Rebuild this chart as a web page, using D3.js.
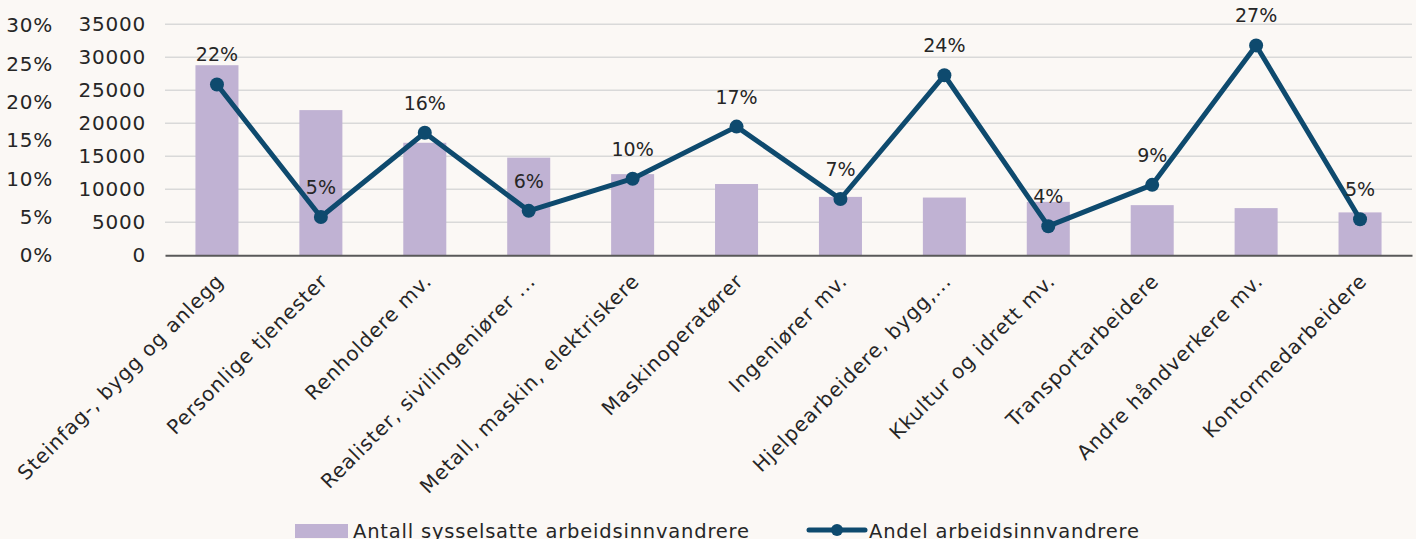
<!DOCTYPE html>
<html lang="no">
<head>
    <meta charset="UTF-8">
    <title>Arbeidsinnvandrere etter yrke</title>
    <script src="https://d3js.org/d3.v7.min.js"></script>
    <style>
        body { margin: 0; background: #fbf8f5; }
        svg { display: block; }
        svg text { font-family: "DejaVu Sans", sans-serif; }
    </style>
</head>
<body>
    <div id="chart"></div>
    <script>
        // Data
        const categories = [
            "Steinfag-, bygg og anlegg",
            "Personlige tjenester",
            "Renholdere mv.",
            "Realister, sivilingeniører ...",
            "Metall, maskin, elektriskere",
            "Maskinoperatører",
            "Ingeniører mv.",
            "Hjelpearbeidere, bygg,...",
            "Kkultur og idrett mv.",
            "Transportarbeidere",
            "Andre håndverkere mv.",
            "Kontormedarbeidere"
        ];
        const antall = [28800, 22000, 17050, 14800, 12300, 10800, 8850, 8750, 8100, 7600, 7150, 6500];
        const andel = [0.223, 0.050, 0.160, 0.058, 0.100, 0.168, 0.0735, 0.235, 0.038, 0.092, 0.274, 0.047];
        const countTicks = [0, 5000, 10000, 15000, 20000, 25000, 30000, 35000];
        const pctTicks = [0, 0.05, 0.10, 0.15, 0.20, 0.25, 0.30];
        const seriesNames = ["Antall sysselsatte arbeidsinnvandrere", "Andel arbeidsinnvandrere"];

        const W = 1416, H = 539;
        const barColor = "#c0b2d3", lineColor = "#0e4a6e", textColor = "#262626";
        const plot = {left: 165, right: 1412, top: 24.3, bottom: 255.3};

        const svg = d3.select("#chart").append("svg")
            .attr("width", W)
            .attr("height", H);

        svg.append("rect").attr("width", W).attr("height", H).attr("fill", "#fbf8f5");

        // Scales
        const x = d3.scaleBand()
            .domain(categories)
            .range([plot.left, plot.right])
            .paddingInner(0.586)
            .paddingOuter(0.293);
        const y = d3.scaleLinear().domain([0, 35000]).range([plot.bottom, plot.top]);
        const yPct = d3.scaleLinear().domain([0, 0.30]).range([plot.bottom, 25.5]);

        // Gridlines
        svg.append("g")
            .selectAll("line")
            .data(countTicks.slice(1))
            .join("line")
            .attr("x1", plot.left).attr("x2", plot.right)
            .attr("y1", d => y(d)).attr("y2", d => y(d))
            .attr("stroke", "#d9d9d9")
            .attr("stroke-width", 1.4);

        // Count axis (inner left)
        const countAxis = svg.append("g")
            .attr("transform", "translate(146,0)")
            .call(d3.axisLeft(y).tickValues(countTicks).tickSize(0).tickPadding(0).tickFormat(d3.format("d")));
        countAxis.select(".domain").remove();

        // Percent axis (outer left)
        const pctAxis = svg.append("g")
            .attr("transform", "translate(53,0)")
            .call(d3.axisLeft(yPct).tickValues(pctTicks).tickSize(0).tickPadding(0).tickFormat(d3.format(".0%")));
        pctAxis.select(".domain").remove();

        svg.selectAll(".tick text")
            .style("font-size", "20px")
            .style("letter-spacing", "0.8px")
            .attr("fill", textColor);

        // Bars
        svg.append("g")
            .selectAll("rect")
            .data(antall)
            .join("rect")
            .attr("x", (d, i) => x(categories[i]))
            .attr("y", d => y(d))
            .attr("width", x.bandwidth())
            .attr("height", d => plot.bottom - y(d))
            .attr("fill", barColor);

        // Category axis
        const xAxis = svg.append("g")
            .attr("transform", `translate(0,${plot.bottom})`)
            .call(d3.axisBottom(x).tickSize(0).tickPadding(0));
        xAxis.select(".domain")
            .attr("stroke", "#595959")
            .attr("stroke-width", 2);
        xAxis.selectAll("text")
            .style("font-size", "20px")
            .style("letter-spacing", "0.9px")
            .style("text-anchor", "end")
            .attr("fill", textColor)
            .attr("dy", 0)
            .attr("transform", "translate(8,27) rotate(-45)");

        // Line series
        const cx = i => x(categories[i]) + x.bandwidth() / 2;
        const line = d3.line()
            .x((d, i) => cx(i))
            .y(d => yPct(d));

        svg.append("path")
            .datum(andel)
            .attr("fill", "none")
            .attr("stroke", lineColor)
            .attr("stroke-width", 5)
            .attr("stroke-linejoin", "round")
            .attr("d", line);

        svg.append("g")
            .selectAll("circle")
            .data(andel)
            .join("circle")
            .attr("cx", (d, i) => cx(i))
            .attr("cy", d => yPct(d))
            .attr("r", 7)
            .attr("fill", lineColor);

        // Data labels
        svg.append("g")
            .selectAll("text")
            .data(andel)
            .join("text")
            .attr("x", (d, i) => cx(i))
            .attr("y", d => yPct(d) - 23)
            .attr("text-anchor", "middle")
            .style("font-size", "19px")
            .attr("fill", textColor)
            .text(d => d3.format(".0%")(d));

        // Legend
        const legend = svg.append("g");
        legend.append("rect")
            .attr("x", 295).attr("y", 524)
            .attr("width", 53).attr("height", 14)
            .attr("fill", barColor);
        legend.append("text")
            .attr("x", 353).attr("y", 538)
            .style("font-size", "19.5px")
            .style("letter-spacing", "0.8px")
            .attr("fill", textColor)
            .text(seriesNames[0]);
        legend.append("line")
            .attr("x1", 809).attr("x2", 865)
            .attr("y1", 530).attr("y2", 530)
            .attr("stroke", lineColor)
            .attr("stroke-width", 5)
            .attr("stroke-linecap", "round");
        legend.append("circle")
            .attr("cx", 837).attr("cy", 530).attr("r", 6)
            .attr("fill", lineColor);
        legend.append("text")
            .attr("x", 869).attr("y", 538)
            .style("font-size", "19.5px")
            .style("letter-spacing", "0.8px")
            .attr("fill", textColor)
            .text(seriesNames[1]);
    </script>
</body>
</html>
